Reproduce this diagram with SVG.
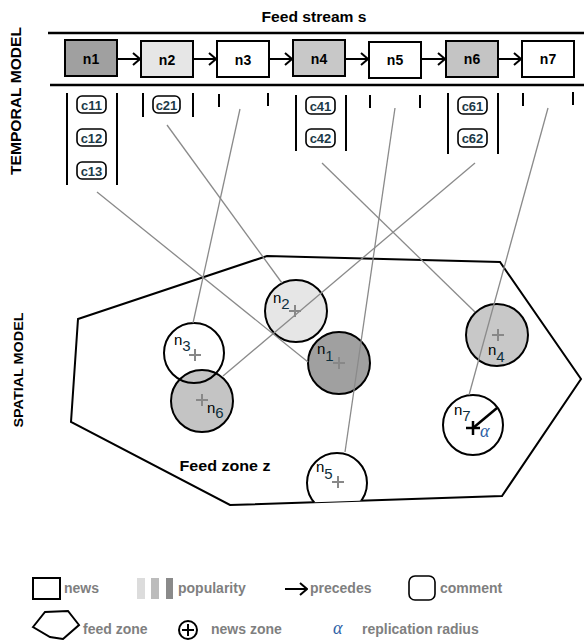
<svg xmlns="http://www.w3.org/2000/svg" width="584" height="640" viewBox="0 0 584 640">
<style>
  text { font-family: "Liberation Sans", Arial, sans-serif; }
  .title { font-size: 14px; font-weight: bold; fill: #000; }
  .side { font-weight: bold; fill: #000; }
  .box { stroke: #000; stroke-width: 2; }
  .blabel { font-size: 14px; font-weight: bold; text-anchor: middle; fill: #000; }
  .arrow { stroke: #000; stroke-width: 2; fill: none; }
  .sep { stroke: #000; stroke-width: 2; }
  .cm { fill: #fff; stroke: #000; stroke-width: 1.6; }
  .ctext { font-size: 13px; font-weight: bold; text-anchor: middle; fill: #1c3a48; }
  .conn { stroke: #8a8a8a; stroke-width: 1.3; fill: none; }
  .zone { stroke: #000; stroke-width: 2; }
  .plus { stroke: #888; stroke-width: 2; }
  .nl { font-size: 15px; fill: #000; }
  .sub { fill: #0d2f3d; }
  .leg { font-size: 14px; font-weight: bold; fill: #7f7f7f; }
  .alpha { font-family: "Liberation Serif", "DejaVu Serif", serif; font-style: italic; fill: #2f62a6; }
</style>
<defs>
  <marker id="chev" markerWidth="10" markerHeight="14" refX="9" refY="7" orient="auto" markerUnits="userSpaceOnUse">
    <path d="M2,1 L9,7 L2,13" fill="none" stroke="#000" stroke-width="2"/>
  </marker>
  <clipPath id="zoneclip">
    <polygon points="78,319 267,256 500,262 581,379 502,496 230,505 71,422"/>
  </clipPath>
</defs>
<rect width="584" height="640" fill="#fff"/>

<!-- Temporal model -->
<g id="temporal-labels">
  <text class="title" x="314" y="22" text-anchor="middle" textLength="105" lengthAdjust="spacingAndGlyphs">Feed stream s</text>
  <text class="side" font-size="14" transform="translate(21,101) rotate(-90)" text-anchor="middle" textLength="148" lengthAdjust="spacingAndGlyphs">TEMPORAL MODEL</text>
  <text class="side" font-size="12" transform="translate(23,370) rotate(-90)" text-anchor="middle" textLength="115" lengthAdjust="spacingAndGlyphs">SPATIAL MODEL</text>
  <line x1="48" y1="33" x2="584" y2="33" stroke="#000" stroke-width="2.5"/>
  <line x1="50" y1="85" x2="584" y2="85" stroke="#000" stroke-width="2.5"/>
</g>

<g id="stream-arrows">
  <line class="arrow" x1="117" y1="59" x2="140" y2="59" marker-end="url(#chev)"/>
  <line class="arrow" x1="193" y1="59" x2="216" y2="59" marker-end="url(#chev)"/>
  <line class="arrow" x1="269" y1="59" x2="292" y2="59" marker-end="url(#chev)"/>
  <line class="arrow" x1="345" y1="59" x2="368" y2="59" marker-end="url(#chev)"/>
  <line class="arrow" x1="421" y1="59" x2="445" y2="59" marker-end="url(#chev)"/>
  <line class="arrow" x1="498" y1="59" x2="521" y2="59" marker-end="url(#chev)"/>
</g>

<g id="box-n1">
  <rect class="box" x="65" y="40" width="52" height="36" fill="#a0a0a0"/>
  <text class="blabel" x="91" y="64">n1</text>
  <line class="sep" x1="67" y1="93" x2="67" y2="185"/>
  <line class="sep" x1="117" y1="93" x2="117" y2="185"/>
  <rect class="cm" x="77" y="96" width="29" height="17" rx="5"/>
  <text class="ctext" x="91.5" y="109.5">c11</text>
  <rect class="cm" x="77" y="129" width="29" height="17" rx="5"/>
  <text class="ctext" x="91.5" y="142.5">c12</text>
  <rect class="cm" x="77" y="162" width="29" height="17" rx="5"/>
  <text class="ctext" x="91.5" y="175.5">c13</text>
</g>
<g id="box-n2">
  <rect class="box" x="141" y="41" width="52" height="36" fill="#e6e6e6"/>
  <text class="blabel" x="167" y="65">n2</text>
  <line class="sep" x1="143" y1="93" x2="143" y2="117"/>
  <line class="sep" x1="193" y1="93" x2="193" y2="117"/>
  <rect class="cm" x="153" y="96" width="27" height="17" rx="5"/>
  <text class="ctext" x="166.5" y="109.5">c21</text>
</g>
<g id="box-n3">
  <rect class="box" x="217" y="41" width="52" height="36" fill="#fff"/>
  <text class="blabel" x="243" y="65">n3</text>
  <line class="sep" x1="219" y1="94" x2="219" y2="107"/>
  <line class="sep" x1="268" y1="93" x2="268" y2="106"/>
</g>
<g id="box-n4">
  <rect class="box" x="293" y="40" width="52" height="36" fill="#c8c8c8"/>
  <text class="blabel" x="319" y="64">n4</text>
  <line class="sep" x1="296" y1="95" x2="296" y2="151"/>
  <line class="sep" x1="346" y1="95" x2="346" y2="151"/>
  <rect class="cm" x="306" y="97" width="29" height="17" rx="5"/>
  <text class="ctext" x="320.5" y="110.5">c41</text>
  <rect class="cm" x="306" y="129" width="29" height="18" rx="5"/>
  <text class="ctext" x="320.5" y="143">c42</text>
</g>
<g id="box-n5">
  <rect class="box" x="369" y="42" width="52" height="36" fill="#fff"/>
  <text class="blabel" x="395" y="65">n5</text>
  <line class="sep" x1="370" y1="95" x2="370" y2="108"/>
  <line class="sep" x1="420" y1="95" x2="420" y2="108"/>
</g>
<g id="box-n6">
  <rect class="box" x="446" y="41" width="52" height="36" fill="#c4c4c4"/>
  <text class="blabel" x="472" y="64">n6</text>
  <line class="sep" x1="448" y1="93" x2="448" y2="154"/>
  <line class="sep" x1="498" y1="93" x2="498" y2="154"/>
  <rect class="cm" x="458" y="97" width="29" height="17" rx="5"/>
  <text class="ctext" x="472.5" y="110.5">c61</text>
  <rect class="cm" x="458" y="129" width="29" height="18" rx="5"/>
  <text class="ctext" x="472.5" y="143">c62</text>
</g>
<g id="box-n7">
  <rect class="box" x="522" y="41" width="52" height="36" fill="#fff"/>
  <text class="blabel" x="548" y="64">n7</text>
  <line class="sep" x1="523" y1="93" x2="523" y2="106"/>
  <line class="sep" x1="573" y1="92" x2="573" y2="105"/>
</g>

<!-- Spatial model -->
<g id="feed-zone">
  <polygon class="zone" points="78,319 267,256 500,262 581,379 502,496 230,505 71,422" fill="#fff"/>
  <text x="225" y="471" text-anchor="middle" font-size="14" font-weight="bold" textLength="91" lengthAdjust="spacingAndGlyphs">Feed zone z</text>
</g>

<g id="zone-n3">
  <circle cx="194" cy="353" r="30" fill="#fff" stroke="none"/>
</g>
<g id="zone-n6">
  <circle class="zone" cx="202" cy="401" r="31" fill="#c4c4c4"/>
  <line class="plus" x1="196" y1="400" x2="208" y2="400"/>
  <line class="plus" x1="202" y1="394" x2="202" y2="406"/>
  <text class="nl" x="207" y="413">n<tspan class="sub" dy="5">6</tspan></text>
</g>
<g id="zone-n3-outline">
  <circle class="zone" cx="194" cy="353" r="30" fill="none"/>
  <line class="plus" x1="189" y1="355" x2="201" y2="355"/>
  <line class="plus" x1="195" y1="349" x2="195" y2="361"/>
  <text class="nl" x="174" y="345">n<tspan class="sub" dy="6">3</tspan></text>
</g>
<g id="zone-n2">
  <circle class="zone" cx="296" cy="311" r="31" fill="#e6e6e6"/>
  <line class="plus" x1="289" y1="311" x2="301" y2="311"/>
  <line class="plus" x1="295" y1="305" x2="295" y2="317"/>
  <text class="nl" x="273" y="303">n<tspan class="sub" dy="6">2</tspan></text>
</g>
<g id="zone-n1">
  <circle class="zone" cx="339" cy="363" r="31" fill="#a0a0a0"/>
  <line class="plus" x1="333" y1="363" x2="345" y2="363"/>
  <line class="plus" x1="339" y1="357" x2="339" y2="369"/>
  <text class="nl" x="317" y="354">n<tspan class="sub" dy="7">1</tspan></text>
</g>
<g id="zone-n4">
  <circle class="zone" cx="497" cy="335" r="31" fill="#c8c8c8"/>
  <line class="plus" x1="492" y1="335" x2="504" y2="335"/>
  <line class="plus" x1="498" y1="329" x2="498" y2="341"/>
  <text class="nl" x="488" y="355">n<tspan class="sub" dy="7">4</tspan></text>
</g>
<g id="zone-n5">
  <circle class="zone" cx="337" cy="483" r="30" fill="#fff" clip-path="url(#zoneclip)"/>
  <line class="plus" x1="332" y1="482" x2="344" y2="482"/>
  <line class="plus" x1="338" y1="476" x2="338" y2="488"/>
  <text class="nl" x="316" y="472">n<tspan class="sub" dy="7">5</tspan></text>
</g>
<g id="zone-n7">
  <circle class="zone" cx="473" cy="425" r="30" fill="#fff"/>
  <line x1="473" y1="428" x2="497" y2="408" stroke="#000" stroke-width="2.5"/>
  <line x1="466" y1="428" x2="480" y2="428" stroke="#000" stroke-width="2.5"/>
  <line x1="473" y1="421" x2="473" y2="435" stroke="#000" stroke-width="2.5"/>
  <text class="nl" x="454" y="415">n<tspan class="sub" dy="6">7</tspan></text>
  <text class="alpha" x="480" y="437" font-size="18">α</text>
</g>

<g id="connectors">
  <line class="conn" x1="97" y1="192" x2="308" y2="362"/>
  <line class="conn" x1="167" y1="125" x2="282" y2="283"/>
  <line class="conn" x1="240" y1="109" x2="193" y2="323"/>
  <line class="conn" x1="322" y1="163" x2="475" y2="312"/>
  <line class="conn" x1="395" y1="108" x2="345" y2="452"/>
  <line class="conn" x1="475" y1="163" x2="223" y2="376"/>
  <line class="conn" x1="548" y1="108" x2="469" y2="395"/>
</g>

<!-- Legend -->
<g id="legend">
  <rect x="33" y="578" width="27" height="21" fill="#fff" stroke="#000" stroke-width="2"/>
  <text class="leg" x="64" y="593">news</text>
  <rect x="137" y="578" width="8" height="21" fill="#dcdcdc"/>
  <rect x="151" y="578" width="8" height="21" fill="#bcbcbc"/>
  <rect x="166" y="578" width="7" height="21" fill="#8a8a8a"/>
  <text class="leg" x="178" y="593">popularity</text>
  <line class="arrow" x1="285" y1="589" x2="307" y2="589" marker-end="url(#chev)"/>
  <text class="leg" x="310" y="593">precedes</text>
  <rect x="409" y="576" width="26" height="24" rx="6" fill="#fff" stroke="#000" stroke-width="1.6"/>
  <text class="leg" x="440" y="593">comment</text>
  <polygon points="33,627 45,612 68,611 79,625 63,639 50,637" fill="#fff" stroke="#000" stroke-width="2"/>
  <text class="leg" x="83" y="634">feed zone</text>
  <circle cx="188" cy="630" r="9" fill="#fff" stroke="#000" stroke-width="2"/>
  <line x1="182" y1="630" x2="194" y2="630" stroke="#000" stroke-width="2"/>
  <line x1="188" y1="624" x2="188" y2="636" stroke="#000" stroke-width="2"/>
  <text class="leg" x="211" y="634">news zone</text>
  <text class="alpha" x="333" y="634" font-size="18">α</text>
  <text class="leg" x="362" y="634">replication radius</text>
</g>
</svg>
